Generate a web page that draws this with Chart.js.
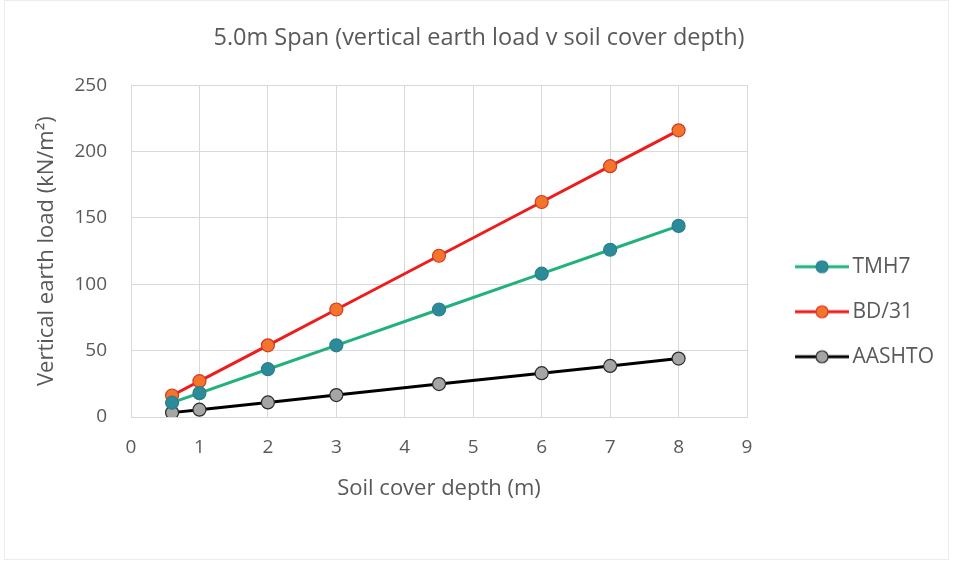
<!DOCTYPE html>
<html>
<head>
<meta charset="utf-8">
<script src="https://cdn.jsdelivr.net/npm/chart.js@4.4.4/dist/chart.umd.min.js"></script>
<style>
  html, body { margin: 0; padding: 0; background: #fff; }
  #wrap { position: absolute; left: 0; top: 0; width: 958px; height: 563px; }
  #frame { position: absolute; left: 4px; top: 0; width: 943px; height: 558px; border: 1px solid #ececec; pointer-events: none; }
</style>
</head>
<body>
<div id="wrap"><canvas id="chart"></canvas></div>
<div id="frame"></div>
<script>
const depths = [0.6, 1, 2, 3, 4.5, 6, 7, 8];
const tmh7 = [10.8, 18, 36, 54, 81, 108, 126, 144];
const bd31 = [16.2, 27, 54, 81, 121.5, 162, 189, 216];
const aashto = [3.3, 5.5, 11, 16.5, 24.8, 33, 38.5, 44];
const seriesNames = ['TMH7', 'BD/31', 'AASHTO'];

const FONT = "'Open Sans', 'Noto Sans', sans-serif";
const GREY = '#595959';
const GRID = '#d9d9d9';

// legend swatch geometry (relative to the start of a legend item)
const SW_W = 71;          // room reserved for the swatch
const LINE_A = 24, LINE_B = 78;

function pts(values) {
  return depths.map((d, i) => ({ x: d, y: values[i] }));
}

// a line with the marker in the middle; the canvas is centred at SW_W/2 by Chart.js
function swatch(st) {
  const c0 = SW_W / 2;
  const half = Math.max(c0 - LINE_A, LINE_B - c0);
  const c = document.createElement('canvas');
  c.width = half * 2; c.height = 16;
  const ctx = c.getContext('2d');
  const off = half - c0;
  ctx.strokeStyle = st.line; ctx.lineWidth = 3;
  ctx.beginPath(); ctx.moveTo(LINE_A + off, 8); ctx.lineTo(LINE_B + off, 8); ctx.stroke();
  ctx.beginPath(); ctx.arc((LINE_A + LINE_B) / 2 + off, 8, 6, 0, Math.PI * 2);
  ctx.fillStyle = st.fill; ctx.fill();
  ctx.lineWidth = 1.2; ctx.strokeStyle = st.border; ctx.stroke();
  return c;
}

const styles = [
  { line: '#21b27c', fill: '#2b8b98', border: '#2b7f8c' },
  { line: '#ee1d1d', fill: '#f4742c', border: '#d03a22' },
  { line: '#000000', fill: '#a5a5a5', border: '#2a2a2a' },
];

const datasets = [tmh7, bd31, aashto].map((vals, i) => ({
  label: seriesNames[i],
  data: pts(vals),
  borderColor: styles[i].line,
  borderWidth: 3,
  pointRadius: 6.5,
  pointBackgroundColor: styles[i].fill,
  pointBorderColor: styles[i].border,
  pointBorderWidth: 1.2,
  tension: 0,
  legendSwatch: swatch(styles[i]),
}));

new Chart(document.getElementById('chart'), {
  type: 'line',
  data: { datasets },
  options: {
    responsive: true,
    maintainAspectRatio: false,
    animation: false,
    layout: { padding: { left: 14, right: 14 } },
    plugins: {
      title: {
        display: true,
        text: '5.0m Span (vertical earth load v soil cover depth)',
        color: GREY,
        font: { family: FONT, size: 23.5, weight: 'normal' },
        padding: { top: 24, bottom: 33 },
      },
      legend: {
        position: 'right',
        title: { display: true, text: '', padding: { top: 46, bottom: 0 } },
        labels: {
          usePointStyle: true,
          pointStyleWidth: SW_W,
          color: GREY,
          font: { family: FONT, size: 21 },
          padding: 24,
          generateLabels(chart) {
            return chart.data.datasets.map((ds, i) => ({
              text: ds.label,
              pointStyle: ds.legendSwatch,
              fontColor: GREY,
              lineWidth: 0,
              datasetIndex: i,
            }));
          },
        },
      },
      tooltip: { enabled: false },
    },
    scales: {
      x: {
        type: 'linear',
        min: 0, max: 9,
        afterFit(scale) { scale.height = 146; },
        ticks: { stepSize: 1, color: GREY, font: { family: FONT, size: 19 }, padding: 19 },
        grid: { color: GRID, drawTicks: false },
        border: { color: GRID },
        title: { display: true, text: 'Soil cover depth (m)', color: GREY, font: { family: FONT, size: 22 }, padding: { top: 0, bottom: 61 } },
      },
      y: {
        min: 0, max: 250,
        afterFit(scale) { scale.width = 117; },
        ticks: { stepSize: 50, color: GREY, font: { family: FONT, size: 19 }, padding: 24 },
        grid: { color: GRID, drawTicks: false },
        border: { color: GRID },
        title: { display: true, text: 'Vertical earth load (kN/m²)', color: GREY, font: { family: FONT, size: 22 }, padding: { top: 20, bottom: 0 } },
      },
    },
  },
});
</script>
</body>
</html>
